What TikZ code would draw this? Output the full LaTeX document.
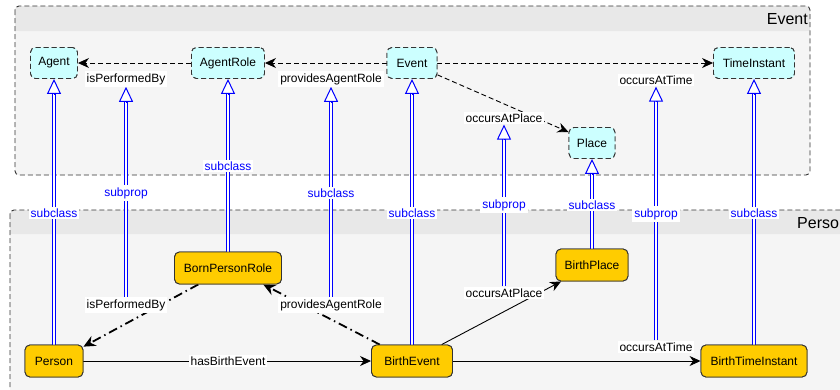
\documentclass[tikz,border=0pt]{standalone}
\usepackage{fontspec}
\setmainfont{Liberation Sans}
\usetikzlibrary{arrows.meta,calc}

\definecolor{evfill}{HTML}{CCFFFF}
\definecolor{psfill}{HTML}{FFCC00}
\definecolor{edgegray}{HTML}{333333}
\definecolor{hdrgray}{HTML}{E8E8E8}
\definecolor{bodygray}{HTML}{F5F5F5}
\definecolor{subblue}{HTML}{0000FF}

\tikzset{
  every node/.style={font=\fontsize{12}{14}\selectfont, inner sep=2pt},
  evclass/.style={draw=edgegray, fill=evfill, dash pattern=on 5pt off 3pt,
    rounded corners=5pt, line width=0.9pt, minimum height=31pt, inner sep=0pt},
  psclass/.style={draw=edgegray, fill=psfill, rounded corners=5pt,
    line width=0.9pt, minimum height=32pt, inner sep=0pt},
  tipblk/.style={-{Stealth[length=11pt,width=10pt,inset=3.5pt]}},
  evedge/.style={tipblk, draw=black, line width=0.9pt, dash pattern=on 5pt off 3pt},
  psedge/.style={tipblk, draw=black, line width=0.9pt},
  roleedge/.style={-{Stealth[length=12pt,width=11pt,inset=4pt]}, draw=black, line width=1.8pt,
    dash pattern=on 9pt off 4pt on 1.5pt off 4pt},
  elabel/.style={fill=white, text=black, inner sep=2pt},
  sublabel/.style={fill=white, text=subblue, inner sep=2pt},
  subshaft/.style={draw=subblue, line width=4pt, shorten >=13pt,
    postaction={draw=white, line width=2pt, shorten >=13pt}},
  subtip/.style={draw=subblue, line width=1pt,
    -{Triangle[open,length=15pt,width=14pt,fill=white]}},
  frame/.style={draw=edgegray, line width=0.9pt, dash pattern=on 5pt off 3pt,
    rounded corners=4pt},
  title/.style={font=\fontsize{16}{18}\selectfont, inner sep=0pt}
}

% subclass / subproperty link: double blue shaft with a hollow head
\newcommand\sublink[2]{%
  \draw[subshaft] (#1.north) -- (#2.south);
  \path (#2.south) ++(0,15) coordinate (#2-tipbase);
  \draw[subtip] (#2-tipbase) -- (#2.south);
}

\begin{document}
\begin{tikzpicture}[x=1pt,y=-1pt]
\useasboundingbox (0,0) rectangle (840,389);
\clip (0,0) rectangle (840,389);
\fill[white] (0,0) rectangle (840,389);

% Event module frame
\fill[bodygray, rounded corners=4pt] (15,6) rectangle (810,175);
\fill[hdrgray, rounded corners=4pt] (15,6) rectangle (810,31);
\fill[hdrgray] (15,20) rectangle (810,31);
\draw[frame] (15,6) rectangle (810,175);
\node[title, anchor=east] (evtitle) at (808,19) {Event};

% Person module frame (runs past the right and bottom edges)
\fill[bodygray, rounded corners=4pt] (10,210) rectangle (880,420);
\fill[hdrgray, rounded corners=4pt] (10,210) rectangle (880,234);
\fill[hdrgray] (10,222) rectangle (880,234);
\draw[frame] (10,210) rectangle (880,420);
\node[title, anchor=west] (pstitle) at (797,223) {Person};

% Event classes
\node[evclass, minimum width=47pt] (agent) at (54,63) {Agent};
\node[evclass, minimum width=73pt] (arole) at (228,63) {AgentRole};
\node[evclass, minimum width=50pt] (ev) at (412,63) {Event};
\node[evclass, minimum width=81pt] (tinst) at (754,63) {TimeInstant};
\node[evclass, minimum width=46pt] (place) at (592,143) {Place};

% Person classes
\node[psclass, minimum width=107pt] (bpr) at (228,268) {BornPersonRole};
\node[psclass, minimum width=58pt] (pers) at (54,361) {Person};
\node[psclass, minimum width=81pt] (bev) at (412,361) {BirthEvent};
\node[psclass, minimum width=72pt] (bpl) at (592,265) {BirthPlace};
\node[psclass, minimum width=106pt] (bti) at (754,361) {BirthTimeInstant};

% Property labels
\node[elabel] (lpe) at (126,79) {isPerformedBy};
\node[elabel] (lpa) at (331,79) {providesAgentRole};
\node[elabel] (lte) at (656,80) {occursAtTime};
\node[elabel] (lpl) at (504,118) {occursAtPlace};
\node[elabel] (mpe) at (126,305) {isPerformedBy};
\node[elabel] (mpa) at (331,305) {providesAgentRole};
\node[elabel] (mpl) at (504,293) {occursAtPlace};
\node[elabel] (mte) at (656,347) {occursAtTime};
\node[elabel] (mhb) at (228,361) {hasBirthEvent};

% Subclass and subproperty links
\sublink{pers}{agent}
\sublink{bpr}{arole}
\sublink{bev}{ev}
\sublink{bpl}{place}
\sublink{bti}{tinst}
\sublink{mpe}{lpe}
\sublink{mpa}{lpa}
\sublink{mpl}{lpl}
\sublink{mte}{lte}

% Event object properties
\draw[evedge] (arole) -- (agent);
\draw[evedge] (ev) -- (arole);
\draw[evedge] (ev) -- (tinst);
\draw[evedge] (ev.-25) -- (place.155);

% Person object properties
\draw[roleedge] (bpr.209) -- (pers.26);
\draw[roleedge] (bev.153) -- (bpr.-25);
\draw[psedge] (pers) -- (bev);
\draw[psedge] (bev.29) -- (bpl.208);
\draw[psedge] (bev) -- (bti);

% Redraw labels over the links
\node[elabel] at (lpe) {isPerformedBy};
\node[elabel] at (lpa) {providesAgentRole};
\node[elabel] at (lte) {occursAtTime};
\node[elabel] at (lpl) {occursAtPlace};
\node[elabel] at (mpe) {isPerformedBy};
\node[elabel] at (mpa) {providesAgentRole};
\node[elabel] at (mpl) {occursAtPlace};
\node[elabel] at (mte) {occursAtTime};
\node[elabel] at (mhb) {hasBirthEvent};

\node[sublabel] (s1) at (54,213) {subclass};
\node[sublabel] (s2) at (126,193) {subprop};
\node[sublabel] (s3) at (228,166) {subclass};
\node[sublabel] (s4) at (331,193) {subclass};
\node[sublabel] (s5) at (412,213) {subclass};
\node[sublabel] (s6) at (504,205) {subprop};
\node[sublabel] (s7) at (592,205) {subclass};
\node[sublabel] (s8) at (656,214) {subprop};
\node[sublabel] (s9) at (754,213) {subclass};

% Redraw classes over the links
\node[evclass, minimum width=47pt] at (agent) {Agent};
\node[evclass, minimum width=73pt] at (arole) {AgentRole};
\node[evclass, minimum width=50pt] at (ev) {Event};
\node[evclass, minimum width=81pt] at (tinst) {TimeInstant};
\node[evclass, minimum width=46pt] at (place) {Place};
\node[psclass, minimum width=107pt] at (bpr) {BornPersonRole};
\node[psclass, minimum width=58pt] at (pers) {Person};
\node[psclass, minimum width=81pt] at (bev) {BirthEvent};
\node[psclass, minimum width=72pt] at (bpl) {BirthPlace};
\node[psclass, minimum width=106pt] at (bti) {BirthTimeInstant};
\end{tikzpicture}
\end{document}
